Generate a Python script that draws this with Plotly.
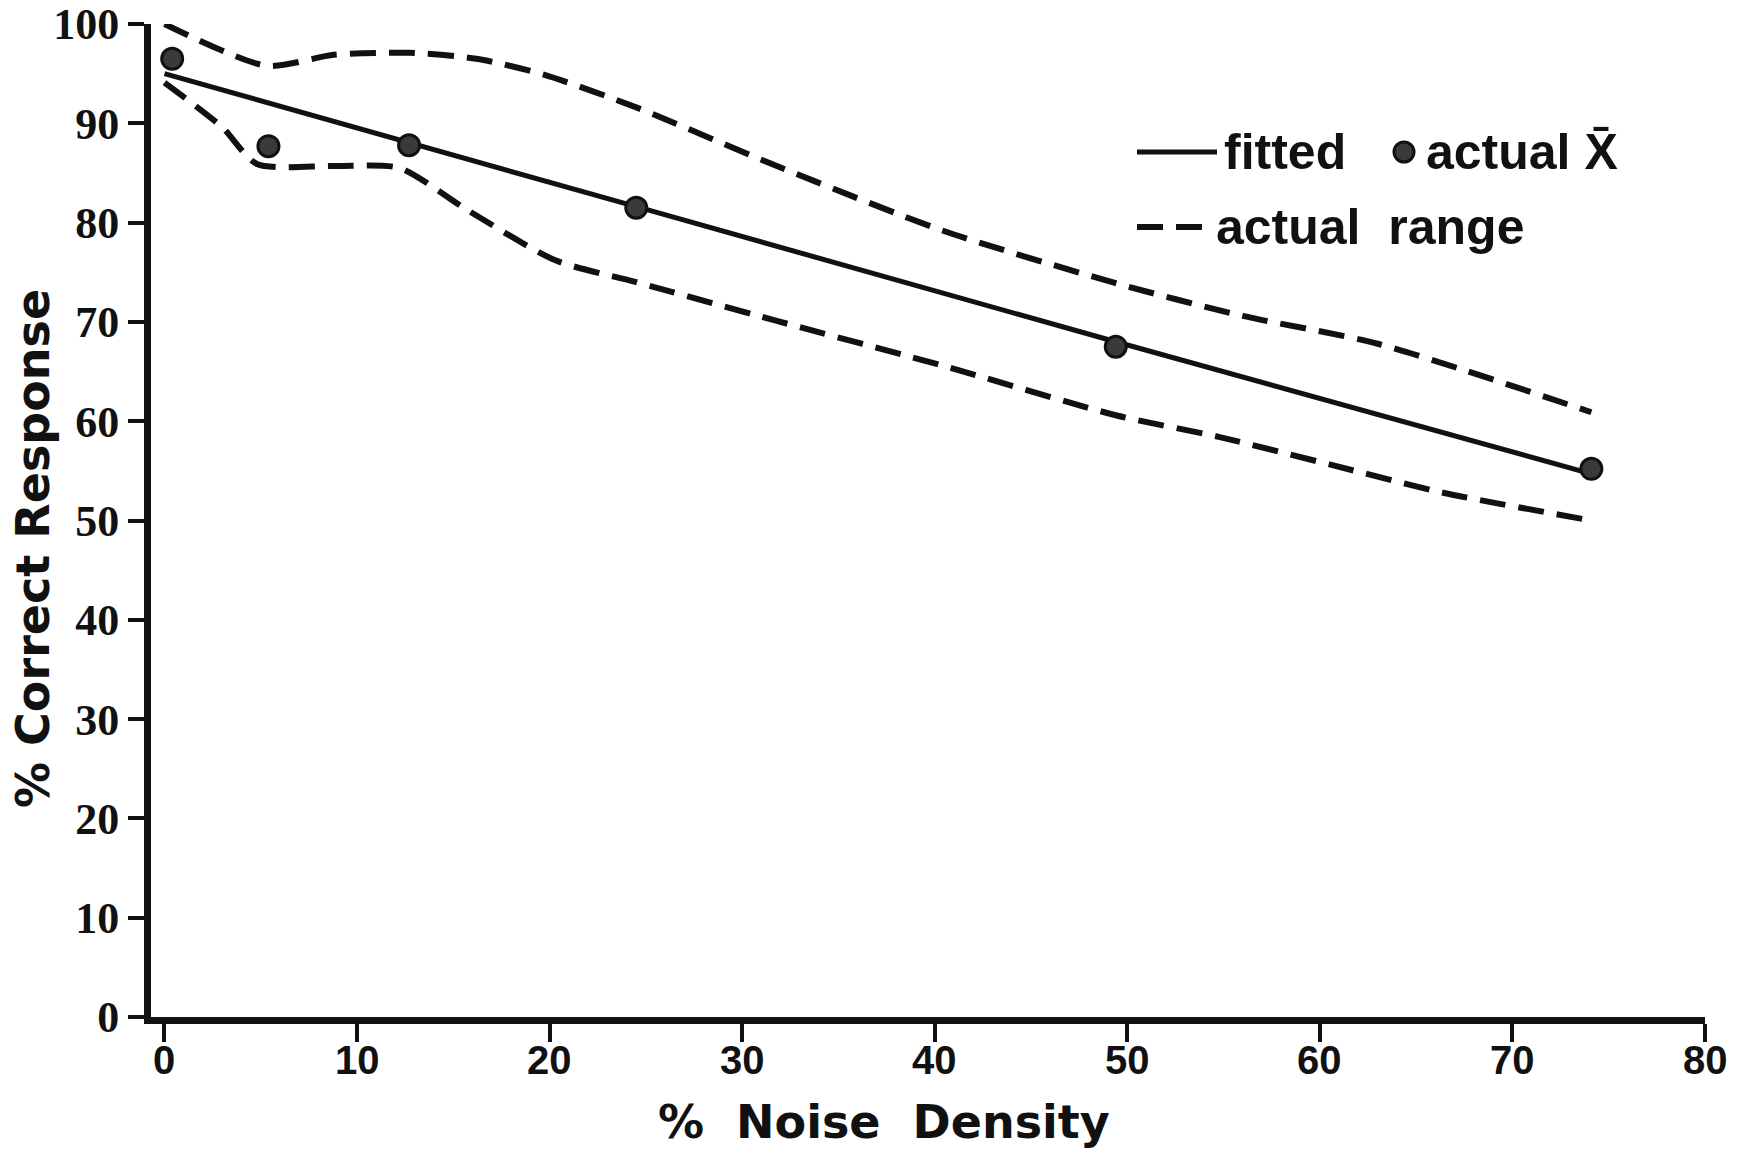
import plotly.graph_objects as go

# ---- data ----
fit_x = [0, 12.7, 24.5, 49.4, 74.1]
fit_y = [95.0, 88.0, 81.6, 68.0, 54.7]

mean_x = [0.4, 5.4, 12.7, 24.5, 49.4, 74.1]
mean_y = [96.5, 87.7, 87.8, 81.5, 67.5, 55.2]

upper_x = [0, 5.3, 8.8, 12.7, 16.2, 19.7, 24.5, 31.8, 40.4, 49.4, 56.0, 63.0, 74.1]
upper_y = [100, 95.8, 96.9, 97.1, 96.5, 94.9, 91.6, 85.7, 79.2, 73.9, 70.6, 67.8, 60.9]

lower_x = [0, 3.0, 4.8, 8.8, 12.2, 15.7, 20.3, 24.5, 31.8, 40.4, 49.4, 54.8, 60.6, 66.4, 74.1]
lower_y = [94.1, 89.6, 85.9, 85.7, 85.5, 81.3, 76.2, 74.0, 70.1, 65.6, 60.6, 58.4, 55.6, 52.8, 50.0]

x_ticks = [0, 10, 20, 30, 40, 50, 60, 70, 80]
x_tick_labels = ["0", "10", "20", "30", "40", "50", "60", "70", "80"]
y_ticks = [0, 10, 20, 30, 40, 50, 60, 70, 80, 90, 100]
y_tick_labels = ["0", "10", "20", "30", "40", "50", "60", "70", "80", "90", "100"]

W, H = 1739, 1151
L, R, T, B = 151, 34, 24, 134
PW, PH = W - L - R, H - T - B


def px(xp):
    return (xp - L) / PW


def py(yp):
    return (H - B - yp) / PH


BLACK = "#111111"
DASH = "26px,13px"

fig = go.Figure()
for xs, ys in [(upper_x, upper_y), (lower_x, lower_y)]:
    fig.add_trace(go.Scatter(x=xs, y=ys, mode="lines", showlegend=False,
                             line=dict(color=BLACK, width=6, dash=DASH,
                                       shape="spline", smoothing=0.7),
                             cliponaxis=False))
fig.add_trace(go.Scatter(x=fit_x, y=fit_y, mode="lines", showlegend=False,
                         line=dict(color=BLACK, width=5), cliponaxis=False))
fig.add_trace(go.Scatter(x=mean_x, y=mean_y, mode="markers", showlegend=False,
                         marker=dict(size=21, color="#3a3a3a",
                                     line=dict(color=BLACK, width=3)),
                         cliponaxis=False))

fig.update_layout(
    width=W, height=H,
    margin=dict(l=L, r=R, t=T, b=B, autoexpand=False),
    paper_bgcolor="white", plot_bgcolor="white",
    showlegend=False,
)
fig.update_xaxes(
    range=[-0.7, 80], tickvals=x_ticks, showticklabels=False,
    showgrid=False, zeroline=False, showline=True, linecolor=BLACK, linewidth=7,
    ticks="outside", ticklen=18, tickwidth=4, tickcolor=BLACK,
)
fig.update_yaxes(
    range=[0, 100], tickvals=y_ticks, ticktext=y_tick_labels,
    showgrid=False, zeroline=False, showline=True, linecolor=BLACK, linewidth=7,
    ticks="outside", ticklen=16, tickwidth=4, tickcolor=BLACK,
    ticklabeloverflow="allow",
    tickfont=dict(family="Liberation Serif", size=44, color=BLACK, weight="bold"),
)

# x tick labels placed on the x scale
for v, t in zip(x_ticks, x_tick_labels):
    fig.add_annotation(xref="x", yref="paper", x=v, y=py(1060), text=t,
                       showarrow=False, xanchor="center", yanchor="middle",
                       font=dict(family="Liberation Sans", size=40, color=BLACK,
                                 weight="bold"))

# axis titles
fig.add_annotation(xref="paper", yref="paper", x=px(884), y=py(1122),
                   text="%  Noise  Density", showarrow=False,
                   font=dict(family="DejaVu Sans", size=46, color=BLACK, weight="bold"),
                   xanchor="center", yanchor="middle")
fig.add_annotation(xref="paper", yref="paper", x=px(33), y=py(549),
                   text="% Correct Response", showarrow=False, textangle=-90,
                   font=dict(family="DejaVu Sans", size=46, color=BLACK, weight="bold"),
                   xanchor="center", yanchor="middle")

# custom legend
LFONT = dict(family="Liberation Sans", size=50, color=BLACK, weight="bold")
fig.add_shape(type="line", xref="paper", yref="paper",
              x0=px(1137), x1=px(1217), y0=py(152), y1=py(152),
              line=dict(color=BLACK, width=5))
fig.add_annotation(xref="paper", yref="paper", x=px(1222), y=py(152),
                   text="fitted", showarrow=False, font=LFONT,
                   xanchor="left", yanchor="middle")
fig.add_shape(type="circle", xref="paper", yref="paper",
              x0=px(1394), x1=px(1414), y0=py(142), y1=py(162),
              fillcolor="#3a3a3a", line=dict(color=BLACK, width=3))
fig.add_annotation(xref="paper", yref="paper", x=px(1424), y=py(152),
                   text="actual X\u0304", showarrow=False, font=LFONT,
                   xanchor="left", yanchor="middle")
fig.add_shape(type="line", xref="paper", yref="paper",
              x0=px(1137), x1=px(1206), y0=py(227), y1=py(227),
              line=dict(color=BLACK, width=6, dash="26px,13px"))
fig.add_annotation(xref="paper", yref="paper", x=px(1214), y=py(227),
                   text="actual  range", showarrow=False, font=LFONT,
                   xanchor="left", yanchor="middle")

fig.write_html("out.html")
